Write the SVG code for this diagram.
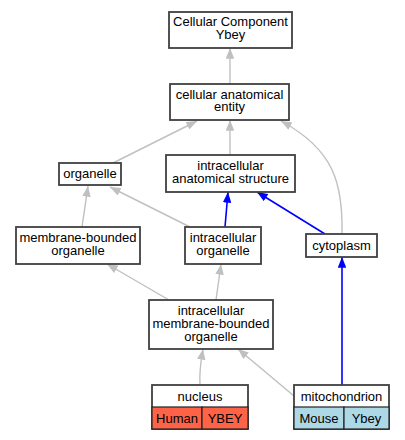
<svg xmlns="http://www.w3.org/2000/svg" width="405" height="440" viewBox="0 0 405 440">
<defs>
<style>
.box{fill:#fff;stroke:#404040;stroke-width:1.8}
.cell{stroke:#222;stroke-width:1.2}
text{font-family:"Liberation Sans",Arial,sans-serif;font-size:13px;fill:#000;text-anchor:middle}
.g{fill:none;stroke:#c0c0c0;stroke-width:1.4}
.b{fill:none;stroke:#0000ff;stroke-width:1.6}
</style>
<marker id="ag" viewBox="0 0 10 8" refX="10" refY="4" markerWidth="11" markerHeight="8.5" markerUnits="userSpaceOnUse" orient="auto"><path d="M0,0 L10,4 L0,8 Z" fill="#c0c0c0"/></marker>
<marker id="ab" viewBox="0 0 10 8" refX="10" refY="4" markerWidth="11" markerHeight="8.5" markerUnits="userSpaceOnUse" orient="auto"><path d="M0,0 L10,4 L0,8 Z" fill="#0000ff"/></marker>
</defs>
<rect width="405" height="440" fill="#fff"/>
<g id="connectors">
<path class="g" d="M230,84 L230,48" marker-end="url(#ag)"/>
<path class="g" d="M113,163 L197,121" marker-end="url(#ag)"/>
<path class="g" d="M230,155 L230,120" marker-end="url(#ag)"/>
<path class="g" d="M342,234 C343,185 335,150 281,121" marker-end="url(#ag)"/>
<path class="g" d="M190,227 L110,187" marker-end="url(#ag)"/>
<path class="g" d="M82,227 L88,186" marker-end="url(#ag)"/>
<path class="b" d="M225,227 L228,192" marker-end="url(#ab)"/>
<path class="b" d="M325,234 L257,192" marker-end="url(#ab)"/>
<path class="g" d="M169,300 L107,264" marker-end="url(#ag)"/>
<path class="g" d="M216,300 L221,264" marker-end="url(#ag)"/>
<path class="g" d="M200,385 C199,371 201,361 203,349" marker-end="url(#ag)"/>
<path class="g" d="M294,396 L238,349" marker-end="url(#ag)"/>
<path class="b" d="M342,385 L342,257" marker-end="url(#ab)"/>
</g>
<g id="node-cc-ybey">
<rect class="box" x="169" y="12" width="123" height="36"/>
<text x="230.5" y="26.3">Cellular Component</text>
<text x="230.5" y="39">Ybey</text>
</g>
<g id="node-cellular-anatomical-entity">
<rect class="box" x="170" y="84" width="119" height="36"/>
<text x="229.5" y="98.5">cellular anatomical</text>
<text x="229.5" y="111">entity</text>
</g>
<g id="node-organelle">
<rect class="box" x="59" y="163" width="62" height="22"/>
<text x="90" y="178">organelle</text>
</g>
<g id="node-intracellular-anatomical-structure">
<rect class="box" x="166" y="155" width="129" height="37"/>
<text x="230.5" y="170">intracellular</text>
<text x="230.5" y="183">anatomical structure</text>
</g>
<g id="node-membrane-bounded-organelle">
<rect class="box" x="16" y="227" width="124" height="37"/>
<text x="78" y="242">membrane-bounded</text>
<text x="78" y="255">organelle</text>
</g>
<g id="node-intracellular-organelle">
<rect class="box" x="185" y="227" width="76" height="37"/>
<text x="223" y="242">intracellular</text>
<text x="223" y="255">organelle</text>
</g>
<g id="node-cytoplasm">
<rect class="box" x="306" y="234" width="71" height="23"/>
<text x="341.5" y="250">cytoplasm</text>
</g>
<g id="node-intracellular-membrane-bounded-organelle">
<rect class="box" x="149" y="300" width="124" height="49"/>
<text x="211" y="314.5">intracellular</text>
<text x="211" y="327.5">membrane-bounded</text>
<text x="211" y="340.5">organelle</text>
</g>
<g id="node-nucleus">
<rect class="box" x="152" y="385" width="96" height="44"/>
<rect class="cell" x="152" y="407" width="50" height="22" fill="#ff6347"/>
<rect class="cell" x="202" y="407" width="46" height="22" fill="#ff6347"/>
<text x="200" y="400.5">nucleus</text>
<text x="177" y="422.5">Human</text>
<text x="225" y="422.5">YBEY</text>
</g>
<g id="node-mitochondrion">
<rect class="box" x="294" y="385" width="95" height="44"/>
<rect class="cell" x="294" y="407" width="50" height="22" fill="#add8e6"/>
<rect class="cell" x="344" y="407" width="45" height="22" fill="#add8e6"/>
<text x="341.5" y="400.5">mitochondrion</text>
<text x="319" y="422.5">Mouse</text>
<text x="366.5" y="422.5">Ybey</text>
</g>
</svg>
